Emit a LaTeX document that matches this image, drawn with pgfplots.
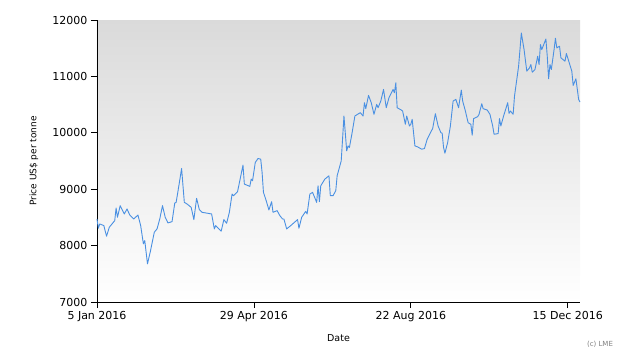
\documentclass[border=0pt]{standalone}
\usepackage{fontspec}
\setmainfont{DejaVu Sans}
\usepackage{pgfplots}
\pgfplotsset{compat=1.18}
\definecolor{lineblue}{RGB}{74,144,226}
\definecolor{bgtop}{RGB}{218,218,218}
\begin{document}
\begin{tikzpicture}[x=1pt,y=1pt]
\path[use as bounding box] (0,0) rectangle (630,360);
\begin{axis}[at={(97pt,58pt)}, anchor=south west, scale only axis,
  width=483pt, height=282pt,
  xmin=0, xmax=354, ymin=7000, ymax=12000,
  axis lines*=left,
  axis line style={black, line width=0.8pt},
  xtick={0,115,230,345},
  xticklabels={5 Jan 2016, 29 Apr 2016, 22 Aug 2016, 15 Dec 2016},
  ytick={7000,8000,...,12000},
  scaled y ticks=false,
  tick align=outside, major tick length=6pt,
  tick style={black, line width=0.8pt},
  /pgf/number format/assume math mode=true,
  /pgf/number format/1000 sep={},
  yticklabel style={font=\fontsize{11}{12}\selectfont},
  xticklabel style={font=\fontsize{11}{12}\selectfont},
  axis background/.style={shade, top color=bgtop, bottom color=white},
  clip=false,
]
\addplot[lineblue, line width=0.9pt, line join=round] table {
0 8472
1 8308
2 8384
5 8355
7 8166
9 8325
13 8443
14 8667
15 8502
17 8708
20 8561
22 8650
24 8543
27 8472
30 8543
32 8355
34 8031
35 8090
37 7677
39 7884
42 8237
44 8296
46 8472
48 8708
50 8502
52 8402
55 8425
57 8755
58 8767
60 9061
62 9368
64 8767
66 8738
69 8679
71 8461
73 8838
75 8637
77 8590
80 8578
84 8561
86 8296
87 8355
91 8255
93 8461
95 8396
97 8590
99 8914
100 8885
103 8955
107 9426
108 9091
112 9050
113 9179
114 9150
116 9474
118 9544
120 9532
121 9297
122 8944
124 8797
126 8632
128 8779
129 8590
132 8620
134 8532
136 8472
137 8472
139 8296
142 8355
147 8461
148 8308
150 8502
153 8608
154 8561
156 8914
158 8944
160 8826
161 8767
162 9061
163 8779
164 9061
167 9179
170 9238
171 8885
173 8885
175 8973
176 9238
179 9503
181 10298
183 9680
184 9768
185 9739
187 10004
189 10298
191 10328
193 10357
195 10298
196 10534
197 10428
199 10663
201 10534
203 10328
205 10504
206 10445
208 10563
210 10769
212 10445
214 10622
217 10769
218 10710
219 10887
220 10445
223 10404
224 10386
226 10151
227 10298
229 10121
230 10151
231 10239
233 9768
235 9750
238 9709
240 9721
242 9886
245 10033
246 10074
248 10339
250 10121
252 10004
253 9992
254 9739
255 9639
257 9827
259 10121
261 10563
263 10593
265 10445
267 10757
268 10563
270 10386
272 10180
274 10151
275 9957
276 10251
279 10286
280 10328
282 10516
283 10428
286 10404
288 10328
290 10121
291 9974
294 9986
295 10251
296 10121
298 10298
301 10534
302 10345
303 10386
305 10328
306 10651
309 11181
311 11770
313 11476
315 11093
317 11152
318 11211
319 11075
321 11123
323 11358
324 11211
325 11564
326 11476
329 11664
330 11358
331 10958
332 11211
333 11123
335 11476
336 11676
337 11505
339 11535
340 11329
343 11270
344 11405
345 11329
348 11093
349 10840
351 10958
353 10593
354 10546
};
\end{axis}
\node[rotate=90, font=\fontsize{9}{11}\selectfont] at (34,199) {Price US\$ per tonne};
\node[font=\fontsize{9.5}{11}\selectfont] at (338.5,22) {Date};
\node[font=\fontsize{7}{8}\selectfont, text=gray] at (600,16) {(c) LME};
\end{tikzpicture}
\end{document}
